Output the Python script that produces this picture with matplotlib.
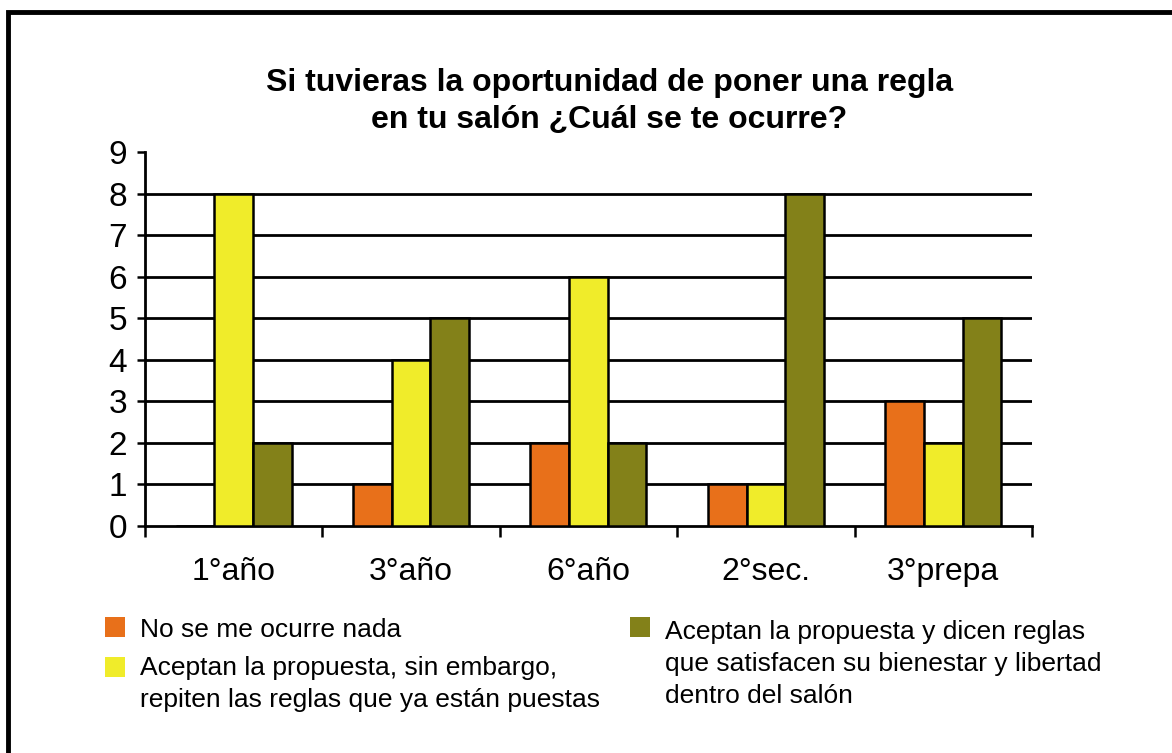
import matplotlib.pyplot as plt
from matplotlib.patches import Rectangle
import numpy as np

plt.rcParams['font.family'] = ['Liberation Sans', 'DejaVu Sans']

# data
grupos = ["1°año", "3°año", "6°año", "2°sec.", "3°prepa"]
nada = [0, 1, 2, 1, 3]
repiten = [8, 4, 6, 1, 2]
bienestar = [2, 5, 2, 8, 5]

series = [nada, repiten, bienestar]
colores = ['#E8701A', '#F0EC2A', '#838119']
etiquetas = ["No se me ocurre nada",
             "Aceptan la propuesta, sin embargo,\nrepiten las reglas que ya están puestas",
             "Aceptan la propuesta y dicen reglas\nque satisfacen su bienestar y libertad\ndentro del salón"]

fig = plt.figure(figsize=(11.72, 7.53), dpi=100)

# frame around the picture
fig.patches.append(Rectangle((8 / 1172, -0.01), 1.02, 1 - 12 / 753 + 0.01,
                             transform=fig.transFigure, fill=False,
                             edgecolor='black', linewidth=3.5))

ax = fig.add_axes([0.1237, 0.3015, 0.7568, 0.4967])

x = np.arange(len(grupos))
w = 0.218
for i, s in enumerate(series):
    ax.bar(x + (i - 1) * w, s, width=w, color=colores[i],
           edgecolor='black', linewidth=1.8, zorder=3)

# gridlines 1..8
for v in range(1, 9):
    ax.axhline(v, color='black', linewidth=2, zorder=1)

ax.set_xlim(-0.5, len(grupos) - 0.5)
ax.set_ylim(0, 9)
ax.set_yticks(range(0, 10))
ax.tick_params(axis='y', labelsize=24, length=6, width=1.8, pad=7)

ax.set_xticks(np.arange(-0.5, len(grupos), 1))
ax.set_xticklabels([])
ax.set_xticks(x, minor=True)
ax.set_xticklabels(grupos, minor=True)
ax.tick_params(axis='x', which='major', length=8, width=1.8, direction='out')
ax.tick_params(axis='x', which='minor', length=0, labelsize=23, pad=22)

for side in ['top', 'right']:
    ax.spines[side].set_visible(False)
for side in ['left', 'bottom']:
    ax.spines[side].set_linewidth(2)

fig.text(0.52, 0.865, "Si tuvieras la oportunidad de poner una regla\nen tu salón ¿Cuál se te ocurre?",
         ha='center', va='center', fontsize=23, fontweight='bold', linespacing=1.33)

# legend drawn by hand to match layout
pos = [(105, 627), (105, 667), (630, 627)]
texto_y = [618, 656, 620]
for (px, py), ty, c, t in zip(pos, texto_y, colores, etiquetas):
    fig.patches.append(Rectangle((px / 1172, 1 - (py + 10) / 753), 20 / 1172, 20 / 753,
                                 transform=fig.transFigure, facecolor=c, edgecolor='none'))
    fig.text((px + 35) / 1172, 1 - ty / 753, t, ha='left', va='top',
             fontsize=19, linespacing=1.42)

fig.savefig('out.png', dpi=100)
